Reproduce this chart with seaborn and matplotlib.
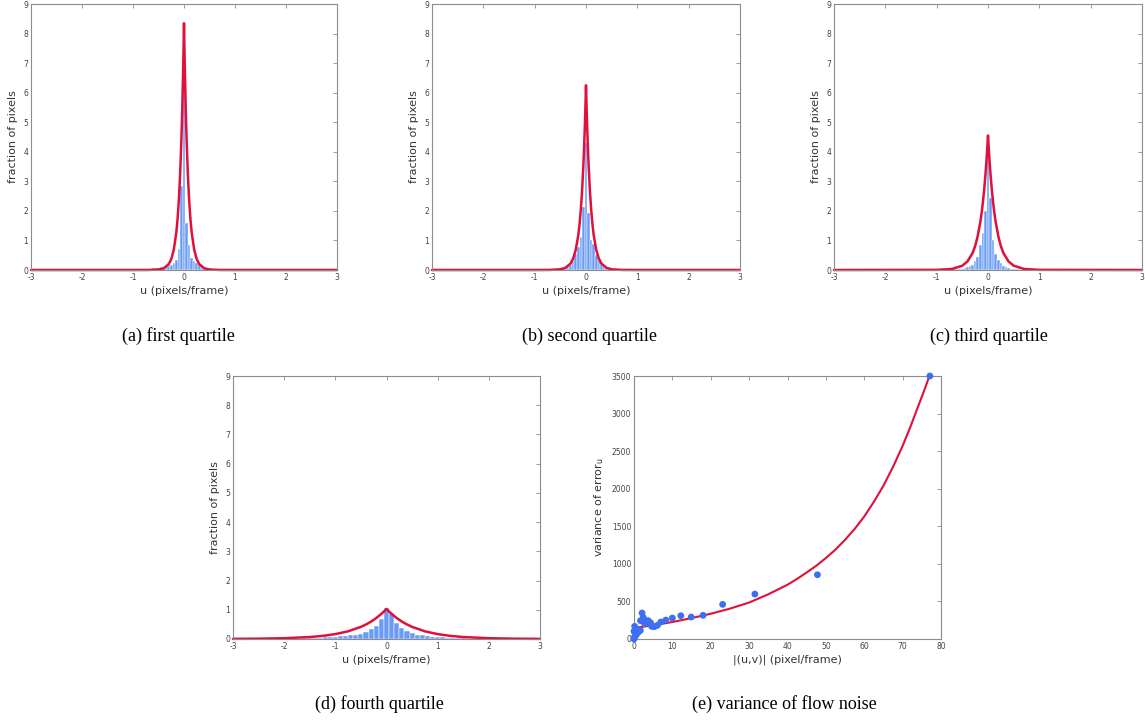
import numpy as np
import pandas as pd
import matplotlib
matplotlib.use('Agg')
import matplotlib.pyplot as plt
import seaborn as sns

# --- Data ---
# histogram bars (bin centers / heights)
a_centers = np.round(np.arange(-1.10, 0.701, 0.05), 3)
a_heights = [0.01, 0.015, 0.02, 0.02, 0.025, 0.03, 0.035, 0.04, 0.045, 0.05,
             0.06, 0.07, 0.08, 0.09, 0.10, 0.12, 0.14, 0.17, 0.22, 0.33,
             0.72, 2.85, 7.6, 1.6, 0.84, 0.40, 0.30, 0.24, 0.18, 0.14,
             0.11, 0.08, 0.06, 0.05, 0.035, 0.02, 0.01]

b_centers = np.round(np.arange(-0.80, 0.801, 0.05), 3)
b_heights = [0.01, 0.015, 0.02, 0.025, 0.03, 0.04, 0.05, 0.06, 0.08, 0.11,
             0.16, 0.30, 0.55, 0.79, 1.10, 2.14, 4.3, 1.93, 1.0, 0.88,
             0.50, 0.35, 0.20, 0.13, 0.09, 0.06, 0.045, 0.03, 0.02, 0.015,
             0.01, 0.01, 0.005]

c_centers = np.round(np.arange(-0.90, 0.801, 0.05), 3)
c_heights = [0.005, 0.01, 0.01, 0.015, 0.02, 0.025, 0.03, 0.04, 0.05, 0.07,
             0.09, 0.12, 0.18, 0.30, 0.45, 0.85, 1.25, 2.0, 4.3, 2.45,
             1.0, 0.55, 0.35, 0.22, 0.15, 0.10, 0.07, 0.05, 0.04, 0.03,
             0.02, 0.015, 0.01, 0.008, 0.005]

d_centers = np.round(np.arange(-1.8, 1.701, 0.1), 3)
d_heights = [0.01, 0.015, 0.02, 0.03, 0.04, 0.05, 0.06, 0.07, 0.08, 0.09,
             0.10, 0.12, 0.14, 0.18, 0.23, 0.34, 0.46, 0.68, 1.05, 0.90,
             0.56, 0.37, 0.26, 0.20, 0.15, 0.12, 0.10, 0.08, 0.07, 0.06,
             0.05, 0.04, 0.03, 0.02, 0.015, 0.01]

# fitted curves: half profile (|u| offsets and heights), symmetric about 0
top_offsets = [0, 0.01, 0.02, 0.035, 0.05, 0.075, 0.1, 0.125, 0.15, 0.2,
               0.25, 0.3, 0.4, 0.5, 0.7, 1.0, 3.0]
a_curve = [8.35, 7.37, 6.50, 5.39, 4.47, 3.27, 2.39, 1.75, 1.28, 0.685,
           0.367, 0.196, 0.056, 0.016, 0.0013, 0, 0]
b_curve = [6.25, 5.59, 5.00, 4.24, 3.59, 2.72, 2.06, 1.56, 1.18, 0.68,
           0.39, 0.22, 0.074, 0.024, 0.0026, 0, 0]
c_curve = [4.55, 4.25, 3.96, 3.58, 3.22, 2.71, 2.28, 1.92, 1.62, 1.15,
           0.81, 0.575, 0.29, 0.145, 0.036, 0.0046, 0]
d_offsets = [0, 0.05, 0.1, 0.2, 0.3, 0.4, 0.5, 0.75, 1.0, 1.25, 1.5, 2.0, 2.5, 3.0]
d_curve = [1.03, 0.94, 0.86, 0.716, 0.597, 0.498, 0.415, 0.263, 0.167, 0.106,
           0.067, 0.027, 0.011, 0.0044]

# panel (e): flow-noise variance
e_speed = [77.1, 47.8, 31.5, 23.1, 18.0, 14.9, 12.2, 10.0, 8.3, 7.0, 6.1, 5.3,
           4.6, 4.3, 3.7, 3.2, 2.8, 2.4, 2.1, 1.7, 2.3, 1.65, 1.1, 0.87, 0.6,
           0.17, 0.0, 0.1, 0.0, 0.35]
e_var = [3500, 855, 598, 461, 315, 292, 310, 279, 252, 226, 182, 164,
         168, 217, 244, 239, 204, 288, 346, 244, 235, 115, 89, 133, 58,
         168, 102, 22, 0, 44]
e_fit_x = [0, 5, 10, 15, 20, 25, 30, 35, 40, 42.5, 45, 47.5, 50, 52.5, 55,
           57.5, 60, 62.5, 65, 67.5, 70, 72, 74, 75.5, 77]
e_fit_y = [146, 183, 226, 278, 336, 404, 485, 595, 722, 800, 885, 975, 1077,
           1190, 1320, 1465, 1630, 1825, 2040, 2290, 2570, 2820, 3090, 3290, 3500]

captions = ['(a) first quartile', '(b) second quartile', '(c) third quartile',
            '(d) fourth quartile', '(e) variance of flow noise']

# --- Style ---
sns.set_style('white')
plt.rcParams['font.family'] = ['DejaVu Sans']
plt.rcParams['axes.unicode_minus'] = False

BAR_BLUE = '#6a9cf7'
DOT_BLUE = '#3d6ff2'
RED = '#e0103c'
GRAY = '#8c8c8c'

W, H = 1145, 721
fig = plt.figure(figsize=(W / 100, H / 100), dpi=100)


def px_axes(left, top, right, bottom):
    return fig.add_axes([left / W, 1 - bottom / H, (right - left) / W, (bottom - top) / H])


def style_axes(ax):
    for s in ax.spines.values():
        s.set_color(GRAY)
        s.set_linewidth(0.8)
    ax.tick_params(direction='in', top=True, right=True, length=3, width=0.6,
                   color=GRAY, labelsize=5.5, labelcolor='#444444', pad=2)


def hist_panel(ax, centers, heights, width, offsets, curve):
    bars = pd.DataFrame({'u': centers, 'frac': heights})
    edges = np.round(np.append(bars['u'].values - width / 2, bars['u'].values[-1] + width / 2), 4)
    sns.histplot(data=bars, x='u', weights='frac', bins=list(edges), ax=ax,
                 color=BAR_BLUE, alpha=1.0, edgecolor='white', linewidth=0.35)
    offs = np.asarray(offsets)
    prof = np.asarray(curve)
    fit = pd.DataFrame({'u': np.concatenate([-offs[::-1], offs[1:]]),
                        'f': np.concatenate([prof[::-1], prof[1:]])})
    sns.lineplot(data=fit, x='u', y='f', ax=ax, color=RED, linewidth=1.8,
                 estimator=None, sort=False)
    for ln in ax.lines:
        ln.set_clip_on(False)
    ax.set_xlim(-3, 3)
    ax.set_ylim(0, 9)
    ax.set_xticks(range(-3, 4))
    ax.set_yticks(range(0, 10))
    ax.set_xlabel('u (pixels/frame)', fontsize=8, color='#333333', labelpad=3)
    ax.set_ylabel('fraction of pixels', fontsize=8, color='#333333', labelpad=4)
    style_axes(ax)


ax_a = px_axes(31, 4, 337, 270)
hist_panel(ax_a, a_centers, a_heights, 0.05, top_offsets, a_curve)
ax_b = px_axes(432, 4, 740, 270)
hist_panel(ax_b, b_centers, b_heights, 0.05, top_offsets, b_curve)
ax_c = px_axes(834, 4, 1142, 270)
hist_panel(ax_c, c_centers, c_heights, 0.05, top_offsets, c_curve)
ax_d = px_axes(233, 376, 540, 639)
hist_panel(ax_d, d_centers, d_heights, 0.1, d_offsets, d_curve)

ax_e = px_axes(634, 376, 941, 639)
sns.lineplot(x=e_fit_x, y=e_fit_y, ax=ax_e, color=RED, linewidth=1.5, estimator=None)
sns.scatterplot(x=e_speed, y=e_var, ax=ax_e, color=DOT_BLUE, s=24, edgecolor='none',
                zorder=3, clip_on=False)
ax_e.set_xlim(0, 80)
ax_e.set_ylim(0, 3500)
ax_e.set_xticks(range(0, 81, 10))
ax_e.set_yticks(range(0, 3501, 500))
ax_e.set_xlabel('|(u,v)| (pixel/frame)', fontsize=8, color='#333333', labelpad=3)
ax_e.set_ylabel('variance of error$_{\\mathrm{u}}$', fontsize=8, color='#333333', labelpad=4)
style_axes(ax_e)

# captions
cap_pos = [(178, 336), (590, 336), (989, 336), (379, 704), (784, 704)]
for txt, (cx, cy) in zip(captions, cap_pos):
    fig.text(cx / W, 1 - cy / H, txt, ha='center', va='center',
             fontsize=13, family='Liberation Serif', color='black')

fig.savefig('out.png', dpi=100)
